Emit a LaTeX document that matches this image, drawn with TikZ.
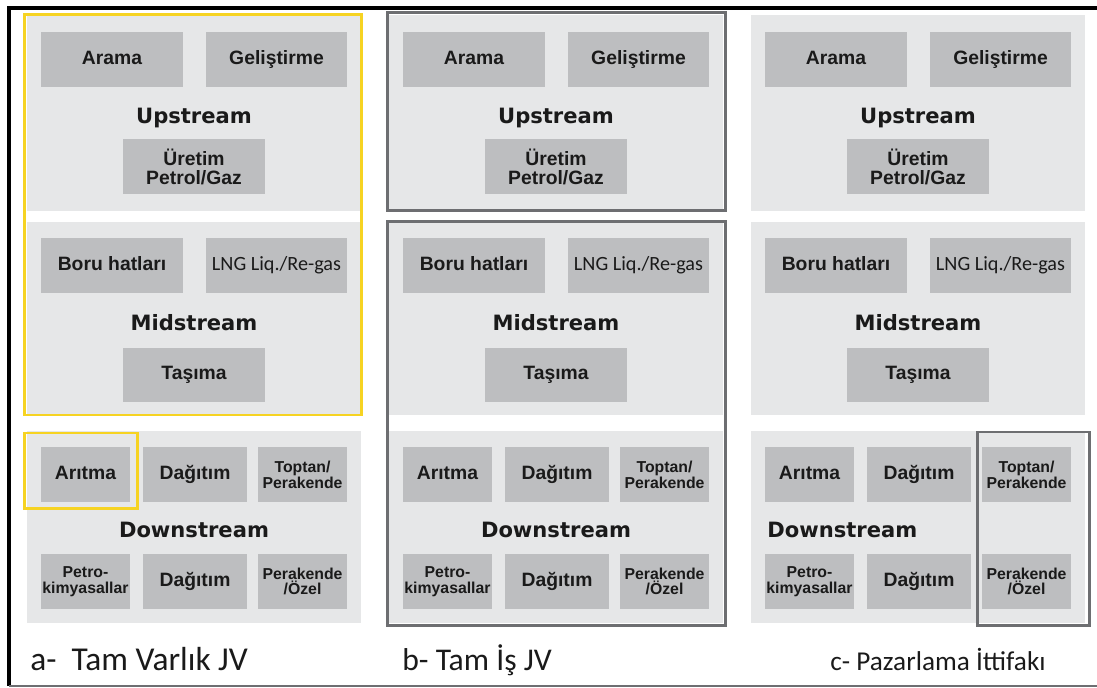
\documentclass[tikz,border=0pt]{standalone}
\usepackage{fontspec}
\setmainfont{Liberation Sans}
\newfontfamily\headfont{DejaVu Sans}
\newfontfamily\capfont{Carlito}
\definecolor{panelgray}{RGB}{230,231,232}
\definecolor{boxgray}{RGB}{189,190,192}
\definecolor{eyyellow}{RGB}{246,211,34}
\definecolor{framegray}{RGB}{109,110,113}
\definecolor{inkblack}{RGB}{26,26,26}
\usetikzlibrary{positioning}

\begin{document}
\begin{tikzpicture}[x=0.02cm, y=-0.02cm,
  segbox/.style={fill=boxgray, text=inkblack, inner sep=1pt, align=center,
    font=\fontsize{11}{11}\selectfont\bfseries},
  oneline/.style={text height=8pt, text depth=2.5pt},
  widebox/.style={segbox, minimum width=2.83cm, minimum height=1.1cm},
  shortbox/.style={segbox, minimum width=1.78cm, minimum height=1.1cm},
  midbox/.style={segbox, minimum width=2.08cm, minimum height=1.1cm},
  smalltext/.style={font=\fontsize{9}{9}\selectfont\bfseries},
  lngtext/.style={font=\capfont\fontsize{11.5}{11.5}\selectfont},
  stagehead/.style={font=\headfont\fontsize{12}{12}\selectfont\bfseries, text=inkblack, anchor=base, inner sep=0pt},
  caption/.style={font=\capfont\fontsize{19}{19}\selectfont, text=inkblack, anchor=base west, inner sep=0pt},
  yellowframe/.style={draw=eyyellow, line width=0.06cm},
  greyframe/.style={draw=framegray, line width=0.06cm},
]
  \useasboundingbox (0,0) rectangle (1097,688);
  % outer frame
  \draw[black, line width=0.08cm] (1097,8) -- (9,8) -- (9,686);
  \draw[framegray, line width=0.04cm] (9,686) -- (1097,686);

  % three columns
  \foreach \c/\xo in {a/27, b/389, c/751} {
    \fill[panelgray] (\xo,15) rectangle (\xo+334,211);
    \fill[panelgray] (\xo,222) rectangle (\xo+334,415);
    \fill[panelgray] (\xo,431) rectangle (\xo+334,623);
    % upstream
    \node[widebox, oneline] (arama-\c) at (\xo+85,59.5) {Arama};
    \node[widebox, oneline] (gelis-\c) at (\xo+249.5,59.5) {Geliştirme};
    \node[stagehead] (up-\c) at (\xo+167,124) {Upstream};
    \node[widebox] (uretim-\c) at (\xo+167,167) {Üretim\\Petrol/Gaz};
    % midstream
    \node[widebox, oneline] (boru-\c) at (\xo+85,265.5) {Boru hatları};
    \node[widebox, oneline, lngtext] (lng-\c) at (\xo+249.5,265.5) {LNG Liq./Re-gas};
    \node[stagehead] (mid-\c) at (\xo+167,331) {Midstream};
    \node[widebox, oneline] (tasima-\c) at (\xo+167,375) {Taşıma};
    % downstream
    \node[shortbox, oneline] (aritma-\c) at (\xo+58.5,474.5) {Arıtma};
    \node[midbox, oneline] (dagitim-\c) at (\xo+168,474.5) {Dağıtım};
    \node[shortbox, smalltext] (toptan-\c) at (\xo+275.5,474.5) {Toptan/\\Perakende};
    \node[shortbox, smalltext] (petro-\c) at (\xo+58.5,581.5) {Petro-\\kimyasallar};
    \node[midbox, oneline] (dagitimb-\c) at (\xo+168,581.5) {Dağıtım};
    \node[shortbox, smalltext] (perak-\c) at (\xo+275.5,581.5) {Perakende\\/Özel};
  }
  \node[stagehead] (down-a) at (194,537) {Downstream};
  \node[stagehead] (down-b) at (556,537) {Downstream};
  \node[stagehead, anchor=base west] (down-c) at (767,537) {Downstream};

  % scope of each cooperation model
  \draw[yellowframe] (24,15) rectangle (361,415);
  \draw[yellowframe] (24,433) rectangle (137,508);
  \draw[greyframe] (387,13) rectangle (725,211);
  \draw[greyframe] (387,222) rectangle (725,625);
  \draw[greyframe] (977,432) rectangle (1089,625);

  \node[caption] (cap-a) at (30,670) {a-\ \ Tam Varlık JV};
  \node[caption, font=\capfont\fontsize{18}{18}\selectfont] (cap-b) at (402,670) {b- Tam İş JV};
  \node[caption, font=\capfont\fontsize{15.5}{15.5}\selectfont] (cap-c) at (830,670) {c- Pazarlama İttifakı};
\end{tikzpicture}
\end{document}
